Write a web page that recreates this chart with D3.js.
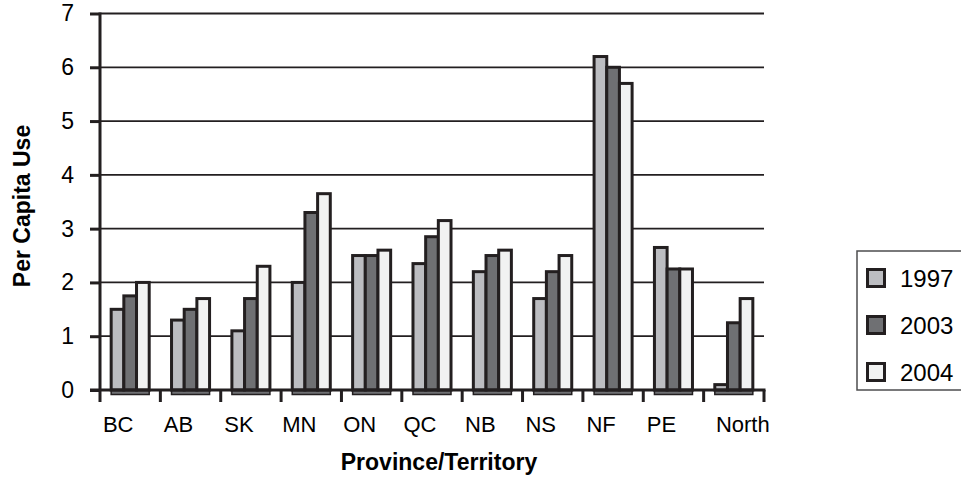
<!DOCTYPE html>
<html>
<head>
<meta charset="utf-8">
<script src="https://cdn.jsdelivr.net/npm/d3@7"></script>
<style>
  html, body { margin: 0; padding: 0; background: #fff; }
  svg { display: block; font-family: "Liberation Sans", Arial, sans-serif; }
</style>
</head>
<body>
<svg id="chart" width="961" height="477"></svg>
<script>
// Per capita use by province/territory, three survey years
const categories = ["BC", "AB", "SK", "MN", "ON", "QC", "NB", "NS", "NF", "PE", "North"];
const years = ["1997", "2003", "2004"];
const values1997 = [1.5, 1.3, 1.1, 2.0, 2.5, 2.35, 2.2, 1.7, 6.2, 2.65, 0.1];
const values2003 = [1.75, 1.5, 1.7, 3.3, 2.5, 2.85, 2.5, 2.2, 6.0, 2.25, 1.25];
const values2004 = [2.0, 1.7, 2.3, 3.65, 2.6, 3.15, 2.6, 2.5, 5.7, 2.25, 1.7];
const yTicks = [0, 1, 2, 3, 4, 5, 6, 7];

const seriesValues = { "1997": values1997, "2003": values2003, "2004": values2004 };
const fills = { "1997": "#bcbdc1", "2003": "#6f7073", "2004": "#f1f2f2" };
const ink = "#231f20";

const svg = d3.select("#chart");
const plotLeft = 100, plotRight = 764, plotTop = 13.5, plotBottom = 390;

const x0 = d3.scaleBand().domain(categories).range([plotLeft, plotRight]);
const bw = x0.bandwidth();
const groupW = bw * 0.63;
const x1 = d3.scaleBand().domain(years).range([0, groupW]);
const y = d3.scaleLinear().domain([0, 7]).range([plotBottom, plotTop]);

// Horizontal gridlines
svg.append("g")
  .selectAll("line")
  .data(yTicks.filter(t => t > 0))
  .join("line")
  .attr("x1", plotLeft).attr("x2", plotRight)
  .attr("y1", d => y(d)).attr("y2", d => y(d))
  .attr("stroke", ink).attr("stroke-width", 1.8);

// Bars
const groups = svg.append("g")
  .selectAll("g")
  .data(categories)
  .join("g")
  .attr("transform", c => `translate(${x0(c) + (bw - groupW) / 2},0)`);

// Base strip under each cluster
groups.append("rect")
  .attr("x", 0).attr("y", plotBottom)
  .attr("width", groupW).attr("height", 4.5)
  .attr("fill", "#6f7073").attr("stroke", ink).attr("stroke-width", 1.5);

groups.selectAll("rect.bar")
  .data((c, i) => years.map(yr => ({ yr, v: seriesValues[yr][i] })))
  .join("rect")
  .attr("class", "bar")
  .attr("x", d => x1(d.yr))
  .attr("y", d => y(d.v))
  .attr("width", x1.bandwidth())
  .attr("height", d => plotBottom - y(d.v))
  .attr("fill", d => fills[d.yr])
  .attr("stroke", ink).attr("stroke-width", 3);

// Y axis
const yAxis = svg.append("g")
  .attr("transform", `translate(${plotLeft},0)`)
  .call(d3.axisLeft(y).tickValues(yTicks).tickSize(10).tickPadding(16).tickFormat(d3.format("d")));
yAxis.select(".domain").remove();
yAxis.selectAll(".tick line").attr("stroke", ink).attr("stroke-width", 3);
yAxis.selectAll(".tick text")
  .attr("font-size", 23).attr("fill", "#000")
  .attr("font-family", "'Liberation Sans', Arial, sans-serif");

// Axis lines
svg.append("line")
  .attr("x1", plotLeft).attr("x2", plotLeft)
  .attr("y1", plotTop - 1).attr("y2", plotBottom + 12)
  .attr("stroke", ink).attr("stroke-width", 3);
svg.append("line")
  .attr("x1", plotLeft - 10).attr("x2", plotRight + 1.5)
  .attr("y1", plotBottom).attr("y2", plotBottom)
  .attr("stroke", ink).attr("stroke-width", 3);

// Category boundary ticks
const bounds = categories.map(c => x0(c)).concat([plotRight]);
svg.append("g")
  .selectAll("line")
  .data(bounds.slice(1))
  .join("line")
  .attr("x1", d => d).attr("x2", d => d)
  .attr("y1", plotBottom).attr("y2", plotBottom + 12)
  .attr("stroke", ink).attr("stroke-width", 3);

// Category labels
const labelNudge = { North: 9 };
svg.append("g")
  .selectAll("text")
  .data(categories)
  .join("text")
  .attr("x", c => x0(c) + bw / 2 + (labelNudge[c] !== undefined ? labelNudge[c] : -12))
  .attr("y", 432)
  .attr("text-anchor", "middle")
  .attr("font-size", 22)
  .attr("fill", "#000")
  .text(c => c);

// Axis titles
svg.append("text")
  .attr("x", 439).attr("y", 470)
  .attr("text-anchor", "middle")
  .attr("font-size", 23).attr("font-weight", "bold")
  .text("Province/Territory");
svg.append("text")
  .attr("transform", "translate(30,206) rotate(-90)")
  .attr("text-anchor", "middle")
  .attr("font-size", 23).attr("font-weight", "bold")
  .text("Per Capita Use");

// Legend
const legend = svg.append("g").attr("transform", "translate(857,251)");
legend.append("rect")
  .attr("x", 0).attr("y", 0).attr("width", 120).attr("height", 139)
  .attr("fill", "#fff").attr("stroke", "#4d4d4f").attr("stroke-width", 1.5);
const items = legend.selectAll("g.item")
  .data(years)
  .join("g")
  .attr("class", "item")
  .attr("transform", (d, i) => `translate(0,${27 + i * 47})`);
items.append("rect")
  .attr("x", 10.5).attr("y", -8.5).attr("width", 17).attr("height", 17)
  .attr("fill", d => fills[d]).attr("stroke", ink).attr("stroke-width", 3);
items.append("text")
  .attr("x", 43).attr("y", 0).attr("dy", "0.36em")
  .attr("font-size", 24).attr("fill", "#000")
  .text(d => d);
</script>
</body>
</html>
